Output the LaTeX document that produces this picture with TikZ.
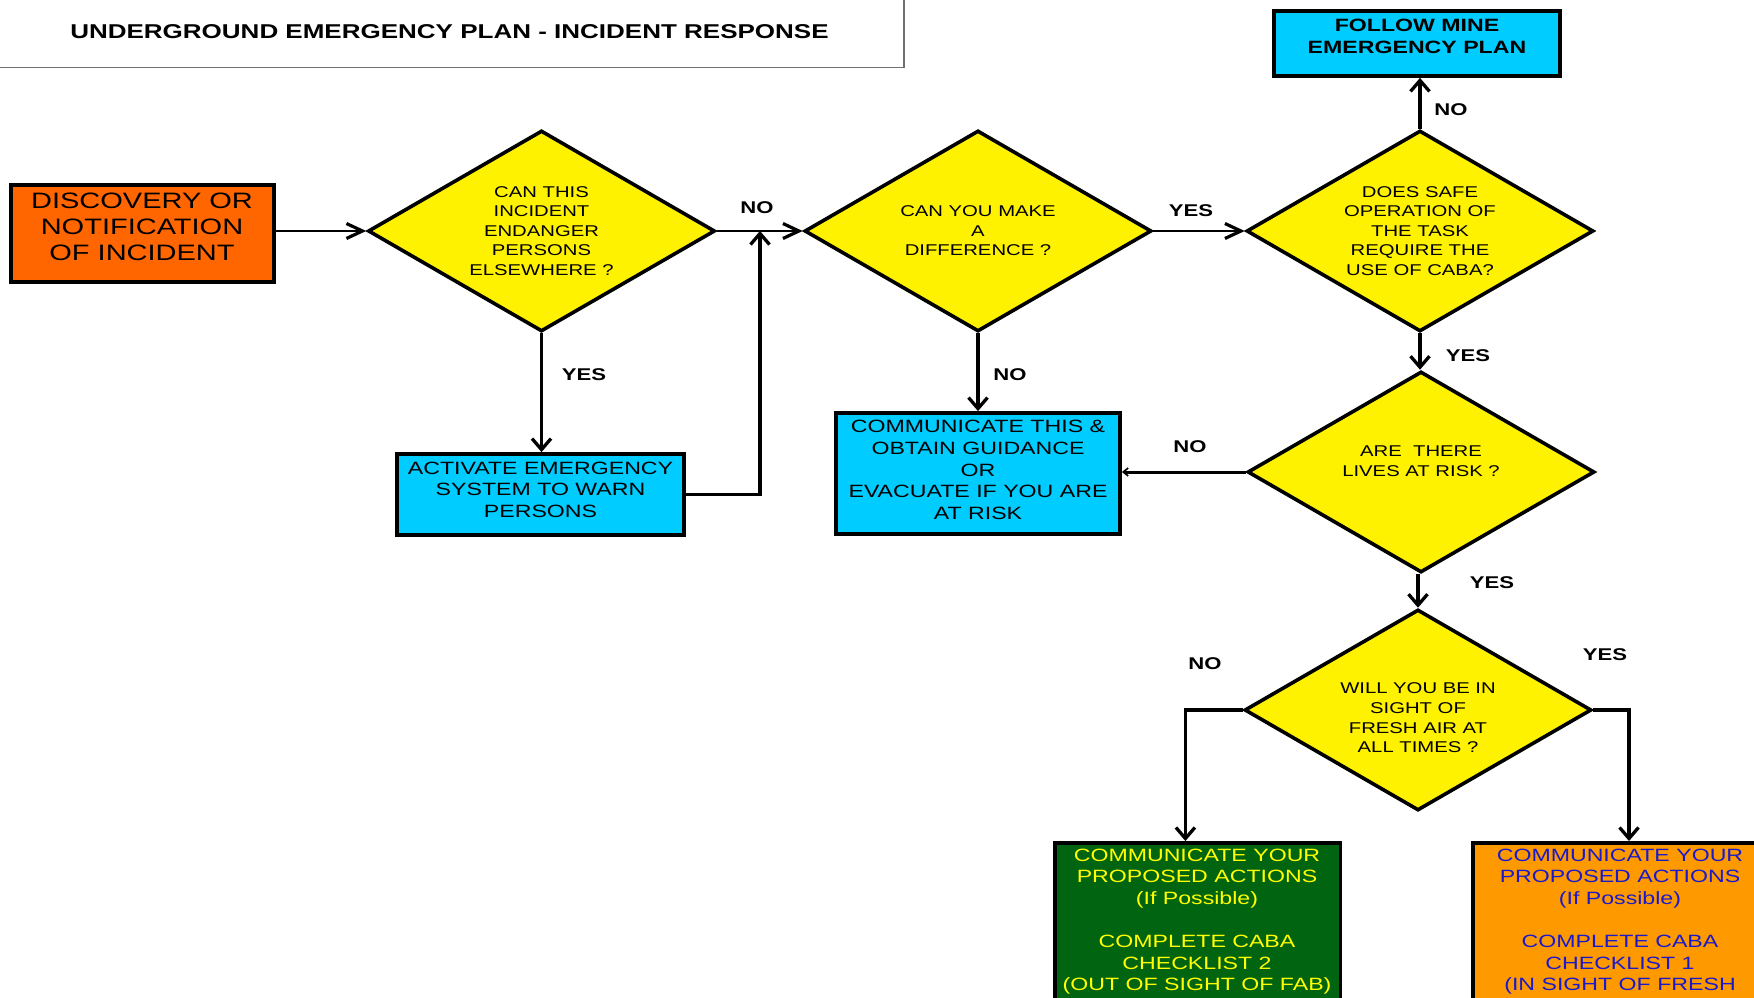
\documentclass[tikz,border=0pt]{standalone}
\usepackage{fontspec}
\setmainfont{Liberation Sans}
\newfontfamily\rf[FakeStretch=1.3]{Liberation Sans}
\usetikzlibrary{arrows.meta,shapes.geometric}
\definecolor{dyel}{HTML}{FFF200}
\definecolor{cyanb}{HTML}{00CCFF}
\definecolor{orred}{HTML}{FF6600}
\definecolor{orangeb}{HTML}{FF9900}
\definecolor{greenb}{HTML}{006411}
\definecolor{bluetxt}{HTML}{1A1ACC}
\definecolor{yeltxt}{HTML}{FFFF00}
\definecolor{titlegray}{HTML}{707070}
\tikzset{
  stepbox/.style={rectangle, draw=black, line width=3.8pt, inner sep=0pt},
  dia/.style={diamond, draw=black, line width=3.6pt, fill=dyel, shape aspect=1.73, inner sep=0pt,
    minimum width=347pt, minimum height=201pt, font=\rf\fontsize{15.6}{19.6}\selectfont, align=center},
  qtxt/.style={font=\rf\fontsize{15.6}{19.6}\selectfont, align=center, inner sep=0pt},
  btxt/.style={font=\rf\fontsize{17.8}{21.6}\selectfont, align=center, inner sep=0pt},
  lab/.style={font=\rf\bfseries\fontsize{17}{20}\selectfont, inner sep=0pt},
  conn/.style={line width=3pt},
  harr/.style={line width=2.7pt, -{Straight Barb[length=16pt,width=15pt,line width=3.2pt]}},
  varr/.style={line width=3.3pt, -{Straight Barb[length=11pt,width=19pt,line width=3.3pt]}},
}
\begin{document}
\begin{tikzpicture}[x=1pt,y=-1pt]
\useasboundingbox (0,0) rectangle (1754,998);
\clip (0,0) rectangle (1754,998);
% title
\node[rectangle, draw=titlegray, line width=1.6pt, minimum width=909pt, minimum height=72.5pt, inner sep=0pt,
  font=\rf\bfseries\fontsize{20}{24}\selectfont] (title) at (449.5,31.25) {UNDERGROUND EMERGENCY PLAN - INCIDENT RESPONSE};
% boxes
\node[stepbox, fill=orred, minimum width=263pt, minimum height=97pt] (disc) at (142.5,233.5) {};
\node[font=\rf\fontsize{22.3}{25.7}\selectfont, align=center, inner sep=0pt] (disct) at (142,227) {DISCOVERY OR\\NOTIFICATION\\OF INCIDENT};
\node[stepbox, fill=cyanb, minimum width=286pt, minimum height=65pt] (follow) at (1417,43.5) {};
\node[btxt, font=\rf\bfseries\fontsize{17.8}{22}\selectfont] (followt) at (1417,36) {FOLLOW MINE\\EMERGENCY PLAN};
\node[stepbox, fill=cyanb, minimum width=284pt, minimum height=121pt] (comm) at (978,473.5) {};
\node[btxt] (commt) at (978,470) {COMMUNICATE THIS \&\\OBTAIN GUIDANCE\\OR\\EVACUATE IF YOU ARE\\AT RISK};
\node[stepbox, fill=cyanb, minimum width=287pt, minimum height=81pt] (act) at (540.5,494.5) {};
\node[btxt] (actt) at (540.5,489.5) {ACTIVATE EMERGENCY\\SYSTEM TO WARN\\PERSONS};
\node[stepbox, fill=greenb, minimum width=285.5pt, minimum height=190pt, anchor=north] (grn) at (1197.75,841) {};
\node[btxt, text=yeltxt, anchor=north] (grnt) at (1197,848.6) {COMMUNICATE YOUR\\PROPOSED ACTIONS\\(If Possible)\\[21.6pt]COMPLETE CABA\\CHECKLIST 2\\(OUT OF SIGHT OF FAB)};
\node[stepbox, fill=orangeb, minimum width=294pt, minimum height=190pt, anchor=north] (org) at (1620,841) {};
\node[btxt, text=bluetxt, anchor=north] (orgt) at (1620,848.6) {COMMUNICATE YOUR\\PROPOSED ACTIONS\\(If Possible)\\[21.6pt]COMPLETE CABA\\CHECKLIST 1\\(IN SIGHT OF FRESH};
% diamonds
\node[dia] (d1) at (541.5,231) {CAN THIS\\INCIDENT\\ENDANGER\\PERSONS\\ELSEWHERE ?};
\node[dia] (d2) at (978,231) {CAN YOU MAKE\\A\\DIFFERENCE ?};
\node[dia] (d3) at (1420,231) {DOES SAFE\\OPERATION OF\\THE TASK\\REQUIRE THE\\USE OF CABA?};
\node[dia] (d4) at (1421,472) {};
\node[qtxt] (d4t) at (1421,461) {ARE\ \ THERE\\LIVES AT RISK ?};
\node[dia] (d5) at (1418,710) {};
\node[qtxt] (d5t) at (1418,718) {WILL YOU BE IN\\SIGHT OF\\FRESH AIR AT\\ALL TIMES ?};
% connectors
\draw[harr] (disc.east |- d1.west) -- (d1.west);
\draw[harr] (d1.east) -- (d2.west);
\node[lab] (no1) at (757,208) {NO};
\draw[varr] (d1.south) -- (d1.south |- act.north);
\node[lab] (yes1) at (584,375) {YES};
\coordinate (j1) at (760,231);
\draw[varr] (act.east) -| (j1);
\draw[harr] (d2.east) -- (d3.west);
\node[lab] (yes2) at (1191,211) {YES};
\draw[varr] (d2.south) -- (comm.north);
\node[lab] (no2) at (1010,375) {NO};
\draw[varr] (d3.north) -- (d3.north |- follow.south);
\node[lab] (no3) at (1451,110) {NO};
\draw[varr] (d3.south) -- (d3.south |- d4.north);
\node[lab] (yes3) at (1468,356) {YES};
\draw[conn, -{Straight Barb[length=5pt,width=8pt,line width=1.6pt]}] (d4.west) -- (d4.west -| comm.east);
\node[lab] (no4) at (1190,447) {NO};
\draw[varr] (d5.north |- d4.south) -- (d5.north);
\node[lab] (yes4) at (1492,583) {YES};
\coordinate (gtop) at (1185.4,841);
\draw[varr] (d5.west) -| (gtop);
\node[lab] (no5) at (1205,664) {NO};
\coordinate (otop) at (1629,841);
\draw[varr] (d5.east) -| (otop);
\node[lab] (yes5) at (1605,655) {YES};
\end{tikzpicture}
\end{document}
